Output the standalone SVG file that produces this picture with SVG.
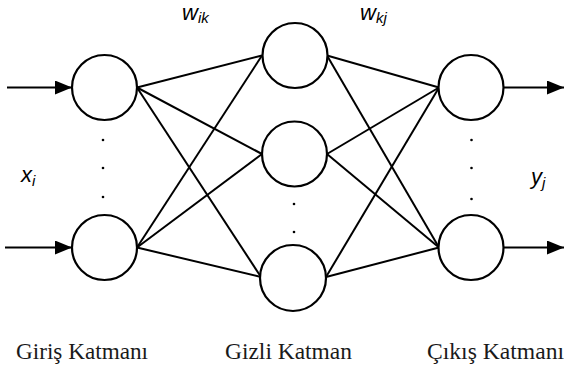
<svg xmlns="http://www.w3.org/2000/svg" width="564" height="369" viewBox="0 0 564 369">
<style>
.node{fill:#fff;stroke:#000;stroke-width:2.2}
.edge{stroke:#000;stroke-width:2;fill:none}
.dot{fill:#000}
.lbl{font-family:"Liberation Serif","Times New Roman",serif;font-size:23px;fill:#1a1a1a}
.math{font-family:"Liberation Sans",Arial,sans-serif;font-style:italic;fill:#000}
</style>
<defs>
<marker id="arr" markerUnits="userSpaceOnUse" markerWidth="17" markerHeight="14" refX="17" refY="7" orient="auto">
<path d="M0,0 L17,7 L0,14 Z" fill="#000"/>
</marker>
</defs>
<rect width="564" height="369" fill="#fff"/>
<g id="connectors">
<line class="edge" x1="7" y1="87.5" x2="72" y2="87.5" marker-end="url(#arr)"/>
<line class="edge" x1="5" y1="247.5" x2="72" y2="247.5" marker-end="url(#arr)"/>
<line class="edge" x1="504" y1="87.5" x2="564" y2="87.5" marker-end="url(#arr)"/>
<line class="edge" x1="504" y1="247.5" x2="564" y2="247.5" marker-end="url(#arr)"/>
<line class="edge" x1="137" y1="87.5" x2="262" y2="55.5"/>
<line class="edge" x1="137" y1="87.5" x2="262" y2="154"/>
<line class="edge" x1="137" y1="87.5" x2="261" y2="277"/>
<line class="edge" x1="137" y1="247.5" x2="262" y2="55.5"/>
<line class="edge" x1="137" y1="247.5" x2="262" y2="154"/>
<line class="edge" x1="137" y1="247.5" x2="261" y2="277"/>
<line class="edge" x1="327" y1="55.5" x2="439" y2="87.5"/>
<line class="edge" x1="327" y1="55.5" x2="439" y2="247.5"/>
<line class="edge" x1="327" y1="154" x2="439" y2="87.5"/>
<line class="edge" x1="327" y1="154" x2="439" y2="247.5"/>
<line class="edge" x1="326" y1="277" x2="439" y2="87.5"/>
<line class="edge" x1="326" y1="277" x2="439" y2="247.5"/>
</g>
<g id="in1"><circle class="node" cx="104.5" cy="87.5" r="32.5"/></g>
<g id="in2"><circle class="node" cx="104.5" cy="247.5" r="32.5"/></g>
<g id="h1"><circle class="node" cx="295" cy="55.5" r="32.5"/></g>
<g id="h2"><circle class="node" cx="294.5" cy="154" r="32.5"/></g>
<g id="h3"><circle class="node" cx="293" cy="278" r="33"/></g>
<g id="out1"><circle class="node" cx="471" cy="87.5" r="32.5"/></g>
<g id="out2"><circle class="node" cx="471" cy="247.5" r="32.5"/></g>
<g id="dots">
<circle class="dot" cx="103" cy="140" r="1.3"/>
<circle class="dot" cx="103" cy="168" r="1.3"/>
<circle class="dot" cx="103" cy="197" r="1.3"/>
<circle class="dot" cx="294" cy="204" r="1.3"/>
<circle class="dot" cx="294" cy="232" r="1.3"/>
<circle class="dot" cx="471.5" cy="140" r="1.3"/>
<circle class="dot" cx="471.5" cy="168" r="1.3"/>
<circle class="dot" cx="471.5" cy="199" r="1.3"/>
</g>
<g id="labels">
<text class="math" x="182" y="20" font-size="22">w<tspan font-size="15" dy="3">ik</tspan></text>
<text class="math" x="360" y="20" font-size="22">w<tspan font-size="15" dy="3">kj</tspan></text>
<text class="math" x="21" y="182" font-size="22">x<tspan font-size="15" dy="4">i</tspan></text>
<text class="math" x="531" y="184" font-size="22">y<tspan font-size="15" dy="4">j</tspan></text>
<text class="lbl" x="16" y="359" textLength="132" lengthAdjust="spacingAndGlyphs">Giriş Katmanı</text>
<text class="lbl" x="225" y="359" textLength="127" lengthAdjust="spacingAndGlyphs">Gizli Katman</text>
<text class="lbl" x="427" y="359" textLength="137" lengthAdjust="spacingAndGlyphs">Çıkış Katmanı</text>
</g>
</svg>
